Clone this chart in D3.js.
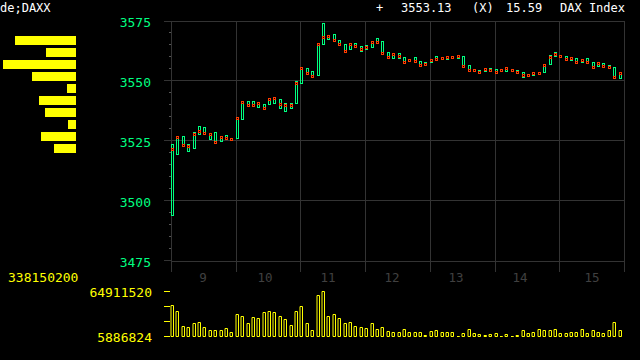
<!DOCTYPE html>
<html>
<head>
<meta charset="utf-8">
<script src="https://cdn.jsdelivr.net/npm/d3@7/dist/d3.min.js"></script>
<style>
  html, body { margin: 0; padding: 0; background: #000; }
  svg { display: block; }
  text { font-family: "DejaVu Sans Mono", monospace; }
</style>
</head>
<body>
<svg id="chart" width="640" height="360"></svg>
<script>
// ---------------- DATA ----------------
const days = ["9", "10", "11", "12", "13", "14", "15"];
const barsPerDay = 12;
// position (in bar units) of each day label
const dayLabelAt = [6.0, 17.4, 29.1, 41.0, 52.8, 64.7, 78.1];

const highs = [
  3523.5, 3526.8, 3526.8, 3523.5, 3528.5, 3531.0, 3530.4, 3527.9, 3528.3, 3526.8, 3527.2, 3525.8,
  3534.2, 3541.4, 3541.4, 3541.4, 3540.8, 3540.1, 3542.5, 3543.0, 3542.2, 3540.5, 3540.5, 3549.6,
  3555.4, 3555.0, 3553.9, 3565.4, 3573.8, 3568.8, 3569.2, 3566.7, 3565.0, 3565.4, 3565.4, 3564.2,
  3564.6, 3566.3, 3567.5, 3566.3, 3561.7, 3561.3, 3561.3, 3559.6, 3558.8, 3559.6, 3557.9, 3557.5,
  3558.8, 3560.0, 3559.6, 3560.0, 3560.0, 3560.4, 3560.0, 3556.3, 3554.6, 3554.2, 3555.0, 3555.0,
  3554.6, 3554.6, 3555.4, 3554.6, 3554.2, 3553.3, 3552.5, 3553.3, 3553.3, 3556.7, 3560.4, 3561.7,
  3560.4, 3560.0, 3559.6, 3559.2, 3558.8, 3559.2, 3557.5, 3557.5, 3557.1, 3556.3, 3555.4, 3553.3
];
const lows = [
  3493.2, 3518.6, 3522.3, 3519.8, 3521.1, 3527.1, 3527.1, 3524.8, 3523.8, 3524.0, 3524.8, 3524.4,
  3525.3, 3533.5, 3538.6, 3538.9, 3538.2, 3537.8, 3539.7, 3540.1, 3537.8, 3536.5, 3537.8, 3539.8,
  3548.2, 3552.2, 3551.1, 3551.5, 3564.6, 3566.5, 3566.1, 3564.4, 3561.7, 3562.5, 3563.3, 3561.7,
  3562.5, 3563.2, 3565.3, 3560.8, 3559.2, 3558.8, 3558.8, 3557.1, 3557.5, 3557.5, 3555.8, 3556.3,
  3556.9, 3558.2, 3558.2, 3558.2, 3559.0, 3558.6, 3555.4, 3553.3, 3553.8, 3553.0, 3553.3, 3553.8,
  3552.5, 3553.3, 3553.3, 3553.8, 3553.0, 3550.8, 3551.7, 3551.7, 3552.5, 3553.0, 3556.3, 3559.6,
  3559.2, 3558.3, 3557.9, 3557.1, 3557.1, 3557.1, 3555.0, 3555.4, 3555.4, 3555.0, 3550.8, 3550.4
];
const closes = [
  3521.3, 3526.3, 3522.9, 3522.6, 3527.5, 3528.8, 3527.9, 3527.5, 3524.2, 3526.3, 3525.8, 3525.4,
  3534.2, 3540.8, 3539.6, 3539.6, 3540.4, 3538.3, 3542.1, 3542.5, 3540.0, 3539.7, 3539.6, 3548.8,
  3555.0, 3552.9, 3551.7, 3565.0, 3567.9, 3568.3, 3566.7, 3565.0, 3562.1, 3565.0, 3564.2, 3563.0,
  3563.8, 3565.8, 3565.8, 3561.3, 3559.6, 3560.8, 3560.0, 3557.5, 3558.3, 3557.9, 3556.3, 3556.7,
  3558.3, 3558.8, 3559.2, 3559.6, 3559.6, 3560.0, 3555.8, 3554.2, 3554.2, 3553.3, 3554.6, 3554.2,
  3553.3, 3554.2, 3555.0, 3554.2, 3553.3, 3552.1, 3552.1, 3552.9, 3552.9, 3556.3, 3559.6, 3560.8,
  3560.0, 3558.8, 3559.2, 3557.5, 3558.3, 3557.5, 3555.4, 3557.1, 3555.8, 3555.4, 3551.3, 3553.1
];
// volume per bar, in millions
const volumes = [
  46.7, 38.9, 19.3, 17.6, 23.3, 24.6, 17.6, 14.1, 14.1, 14.1, 16.3, 11.5,
  35.0, 32.3, 23.3, 30.6, 29.8, 37.6, 38.9, 37.6, 32.3, 28.4, 20.6, 38.9,
  45.4, 23.3, 14.1, 59.7, 64.91152, 32.3, 35.0, 29.8, 23.3, 24.6, 19.3, 17.6,
  16.3, 23.3, 15.4, 18.0, 12.8, 11.5, 11.5, 15.4, 11.5, 10.7, 11.5, 7.6,
  12.8, 14.1, 11.5, 11.5, 11.5, 5.886824, 10.2, 15.4, 10.2, 8.9, 7.6, 8.9,
  10.2, 6.3, 8.9, 6.3, 7.6, 14.1, 10.2, 11.5, 15.4, 14.1, 14.1, 15.4,
  10.2, 10.2, 11.5, 11.5, 15.4, 10.2, 14.1, 11.5, 10.2, 14.1, 24.6, 14.1
];
// volume-at-price histogram (left panel)
const priceVolume = [61, 30, 73, 44, 9, 37, 31, 8, 35, 22];

const yTicks = [3475, 3500, 3525, 3550, 3575];
const volTotalLabel = "338150200";
const volMaxLabel = "64911520";
const volMinLabel = "5886824";
const header = { left: "de;DAXX", sign: "+", last: "3553.13", flag: "(X)", change: "15.59", name: "DAX Index" };

// ---------------- DRAW ----------------
const GREEN = "#00ff80", RED = "#ff3c00", YELLOW = "#ffff00", GRID = "#333333", DAYC = "#404040";
const svg = d3.select("#chart");
svg.append("rect").attr("width", 640).attr("height", 360).attr("fill", "#000");

const n = closes.length;
const X0 = 171, X1 = 624;
const xi = d3.scaleLinear().domain([0, n]).range([X0, X1]).interpolate(d3.interpolateRound);
const y = d3.scaleLinear().domain([3475, 3575]).range([260, 20]);
const yr = v => Math.round(y(v));

// horizontal gridlines (inner)
const gridAxis = d3.axisRight(y).tickValues(yTicks.slice(1, -1)).tickSize(X1 - 164).tickFormat("");
svg.append("g").attr("transform", "translate(164,0)").call(gridAxis)
  .call(g => g.select(".domain").remove())
  .call(g => g.selectAll("line").attr("stroke", GRID));

// frame top/bottom lines
svg.append("line").attr("x1", 164).attr("x2", X1 + 1).attr("y1", yr(3575) + 1.5).attr("y2", yr(3575) + 1.5).attr("stroke", GRID);
svg.append("line").attr("x1", X0).attr("x2", X1 + 1).attr("y1", yr(3475) + 1.5).attr("y2", yr(3475) + 1.5).attr("stroke", GRID);
svg.append("line").attr("x1", 164).attr("x2", X0).attr("y1", yr(3475) + 0.5).attr("y2", yr(3475) + 0.5).attr("stroke", GRID);

// vertical day lines (extend below as ticks)
const dayStarts = d3.range(0, n + 1, barsPerDay);
const xAxis = d3.axisBottom(xi).tickValues(dayStarts).tickSize(-(272 - 21)).tickFormat("");
svg.append("g").attr("transform", "translate(0,272)").call(xAxis)
  .call(g => g.select(".domain").remove())
  .call(g => g.selectAll("line").attr("stroke", GRID));

// minor y ticks
const minor = d3.range(3480, 3575, 5).filter(v => v % 25 !== 0);
svg.append("g").attr("transform", `translate(${X0},0)`)
  .call(d3.axisLeft(y).tickValues(minor).tickSize(2).tickFormat(""))
  .call(g => g.select(".domain").remove())
  .call(g => g.selectAll("line").attr("stroke", "#555"));

// y labels
svg.append("g").attr("transform", `translate(${X0},0)`)
  .call(d3.axisLeft(y).tickValues(yTicks).tickSize(0).tickPadding(20).tickFormat(d3.format("d")))
  .call(g => g.select(".domain").remove())
  .call(g => g.selectAll("text").attr("fill", GREEN).attr("font-size", 13)
    .attr("font-family", "DejaVu Sans Mono").attr("dy", "0.47em"));

// day labels
svg.append("g").selectAll("text").data(days).join("text")
  .attr("x", (d, i) => xi(dayLabelAt[i]))
  .attr("y", 282)
  .attr("text-anchor", "middle")
  .attr("font-size", 12.5)
  .attr("fill", DAYC)
  .text(d => d);

// candles: high-low box
const idx = d3.range(n);
svg.append("g").selectAll("rect").data(idx).join("rect")
  .attr("x", i => xi(i) + 0.5)
  .attr("y", i => yr(highs[i]) + 0.5)
  .attr("width", 2)
  .attr("height", i => Math.max(0, yr(lows[i]) - yr(highs[i]) - 1))
  .attr("fill", "none")
  .attr("stroke", GREEN)
  .attr("stroke-width", 1);

// close markers
svg.append("g").selectAll("rect").data(idx).join("rect")
  .attr("x", i => xi(i) + 0.5)
  .attr("y", i => yr(closes[i]) - 0.5)
  .attr("width", 2)
  .attr("height", 2)
  .attr("fill", "#000")
  .attr("stroke", RED)
  .attr("stroke-width", 1);

// volume panel
const vMin = d3.min(volumes), vMax = d3.max(volumes);
const yv = d3.scaleLinear().domain([vMin, vMax]).range([336, 291]);
const vTicks = d3.range(4).map(k => vMin + k * (vMax - vMin) / 3);
svg.append("g").attr("transform", "translate(170,0)")
  .call(d3.axisLeft(yv).tickValues(vTicks).tickSize(6).tickPadding(12)
    .tickFormat((d, i) => i === 0 ? volMinLabel : (i === 3 ? volMaxLabel : "")))
  .call(g => g.select(".domain").remove())
  .call(g => g.selectAll("line").attr("stroke", YELLOW))
  .call(g => g.selectAll("text").attr("fill", YELLOW).attr("font-size", 13)
    .attr("font-family", "DejaVu Sans Mono").attr("dy", "0.42em").attr("x", -18));

// volume bars as outlined paths (zero-height bars still draw as a line)
svg.append("g").selectAll("path").data(idx).join("path")
  .attr("d", i => {
    const x = xi(i) + 0.5;
    const top = Math.round(yv(volumes[i])) + 0.5;
    const h = 336 - Math.round(yv(volumes[i]));
    return `M${x},${top}h2v${h}h-2Z`;
  })
  .attr("fill", "none")
  .attr("stroke", YELLOW)
  .attr("stroke-width", 1)
  .attr("stroke-linecap", "square");

svg.append("text").attr("x", 8).attr("y", 282).attr("font-size", 13)
  .attr("fill", YELLOW).text(volTotalLabel);

// left histogram
const hy = d3.scaleBand().domain(d3.range(priceVolume.length)).range([36, 153]).paddingInner(0.25);
const hx = d3.scaleLinear().domain([0, 73]).range([0, 73]);
svg.append("g").selectAll("rect").data(priceVolume).join("rect")
  .attr("x", d => 76 - hx(d))
  .attr("y", (d, i) => hy(i))
  .attr("width", d => hx(d))
  .attr("height", hy.bandwidth())
  .attr("fill", YELLOW);

// header
const H = svg.append("g").attr("font-size", 12).attr("fill", "#ffffff");
H.append("text").attr("x", 0).attr("y", 12).text(header.left);
H.append("text").attr("x", 376).attr("y", 12).text(header.sign);
H.append("text").attr("x", 401).attr("y", 12).text(header.last);
H.append("text").attr("x", 472).attr("y", 12).text(header.flag);
H.append("text").attr("x", 506).attr("y", 12).text(header.change);
H.append("text").attr("x", 560).attr("y", 12).text(header.name);
</script>
</body>
</html>
